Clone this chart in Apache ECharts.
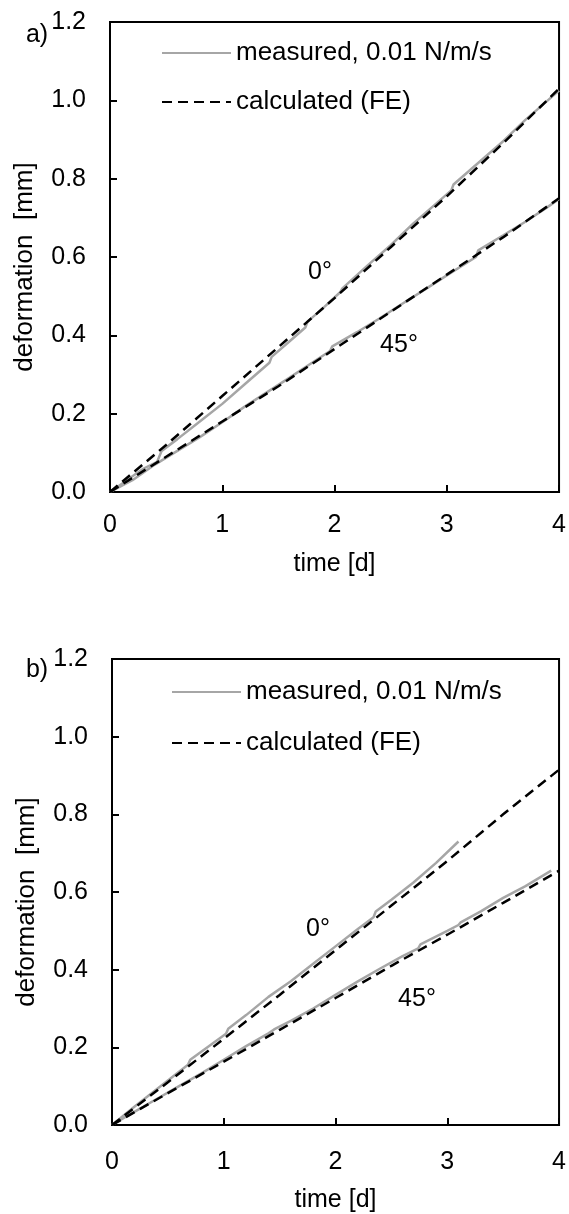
<!DOCTYPE html>
<html>
<head>
<meta charset="utf-8">
<script src="https://cdn.jsdelivr.net/npm/echarts@6/dist/echarts.min.js"></script>
<style>
html,body{margin:0;padding:0;background:#fff;}
#chart{width:569px;height:1214px;}
</style>
</head>
<body>
<div id="chart"></div>
<script>
// ---- data ----
var xTicks = [0, 1, 2, 3, 4];
var yTicks = [0.0, 0.2, 0.4, 0.6, 0.8, 1.0, 1.2];
var legendNames = ['measured, 0.01 N/m/s', 'calculated (FE)'];
var angleLabels = ['0°', '45°'];
var panelLabels = ['a)', 'b)'];

// panel a) calculated (FE)
var calcT = [0, 0.5, 1.0, 1.5, 2.0, 2.5, 3.0, 3.5, 4.0];
var aCalc0  = [0, 0.12, 0.245, 0.37, 0.495, 0.625, 0.755, 0.89, 1.03];
var aCalc45 = [0, 0.09, 0.18, 0.27, 0.365, 0.46, 0.555, 0.65, 0.75];
// panel a) measured
var aMeas0T = [0, 0.1, 0.2, 0.3, 0.42, 0.46, 0.6, 0.8, 1.0, 1.2, 1.42, 1.44, 1.6, 1.74, 1.76, 1.9, 2.05, 2.07, 2.3, 2.5, 2.7, 2.9, 3.04, 3.06, 3.3, 3.5, 3.7, 3.9, 4.0];
var aMeas0V = [0, 0.02, 0.04, 0.06, 0.077, 0.105, 0.135, 0.18, 0.225, 0.275, 0.33, 0.345, 0.385, 0.42, 0.435, 0.47, 0.51, 0.52, 0.58, 0.63, 0.685, 0.735, 0.77, 0.785, 0.845, 0.895, 0.95, 1.0, 1.025];
var aMeas45T = [0, 0.2, 0.4, 0.6, 0.8, 1.0, 1.2, 1.4, 1.6, 1.8, 1.96, 1.98, 2.2, 2.4, 2.6, 2.8, 3.0, 3.26, 3.28, 3.5, 3.7, 3.9, 4.0];
var aMeas45V = [0, 0.03, 0.07, 0.105, 0.14, 0.178, 0.218, 0.255, 0.292, 0.33, 0.36, 0.372, 0.408, 0.443, 0.48, 0.516, 0.553, 0.6, 0.617, 0.655, 0.69, 0.728, 0.748];

// panel b) calculated (FE)
var bCalc0  = [0, 0.11, 0.222, 0.335, 0.45, 0.565, 0.68, 0.8, 0.915];
var bCalc45 = [0, 0.082, 0.163, 0.245, 0.327, 0.41, 0.49, 0.572, 0.655];
// panel b) measured
var bMeas0T = [0, 0.2, 0.4, 0.68, 0.7, 0.9, 1.02, 1.04, 1.2, 1.4, 1.6, 1.8, 2.0, 2.2, 2.34, 2.36, 2.5, 2.7, 2.9, 3.1];
var bMeas0V = [0, 0.047, 0.092, 0.155, 0.168, 0.21, 0.235, 0.248, 0.283, 0.33, 0.37, 0.415, 0.46, 0.505, 0.535, 0.55, 0.58, 0.625, 0.675, 0.73];
var bMeas45T = [0, 0.2, 0.4, 0.6, 0.8, 1.0, 1.2, 1.4, 1.45, 1.6, 1.8, 2.0, 2.2, 2.4, 2.6, 2.74, 2.76, 3.0, 3.1, 3.12, 3.3, 3.5, 3.7, 3.93];
var bMeas45V = [0, 0.034, 0.067, 0.1, 0.133, 0.168, 0.203, 0.236, 0.246, 0.268, 0.3, 0.335, 0.37, 0.403, 0.435, 0.455, 0.465, 0.5, 0.515, 0.522, 0.55, 0.585, 0.615, 0.655];

function zip(xs, ys) { return xs.map(function (x, i) { return [x, ys[i]]; }); }

var FONT = 'Liberation Sans, Arial, sans-serif';
var FS = 25;
var GRAY = '#a6a6a6';

function xAx(gi, margin, gap) {
  return {
    gridIndex: gi, type: 'value', min: xTicks[0], max: xTicks[xTicks.length - 1], interval: 1,
    axisLine: { show: true, onZero: false, lineStyle: { color: '#000', width: 2 } },
    axisTick: { show: true, inside: true, length: 7, lineStyle: { color: '#000', width: 2 } },
    splitLine: { show: false },
    axisLabel: { fontSize: FS, fontFamily: FONT, color: '#000', margin: margin },
    name: 'time [d]', nameLocation: 'middle', nameGap: gap,
    nameTextStyle: { fontSize: FS, fontFamily: FONT, color: '#000' }
  };
}
function yAx(gi) {
  return {
    gridIndex: gi, type: 'value', min: yTicks[0], max: yTicks[yTicks.length - 1], interval: 0.2,
    axisLine: { show: true, onZero: false, lineStyle: { color: '#000', width: 2 } },
    axisTick: { show: true, inside: true, length: 7, lineStyle: { color: '#000', width: 2 } },
    splitLine: { show: false },
    axisLabel: { fontSize: FS, fontFamily: FONT, color: '#000', margin: 24,
      formatter: function (v) { return v.toFixed(1); } },
    name: 'deformation  [mm]', nameLocation: 'middle', nameGap: 72, nameRotate: 90,
    nameTextStyle: { fontSize: 26, fontFamily: FONT, color: '#000', padding: [0, 20, 0, 0] }
  };
}
function measSeries(gi, data) {
  return { name: legendNames[0], type: 'line', xAxisIndex: gi, yAxisIndex: gi, data: data,
    symbol: 'none', lineStyle: { color: GRAY, width: 2.5 }, itemStyle: { color: GRAY },
    z: 2, animation: false };
}
function calcSeries(gi, data) {
  return { name: legendNames[1], type: 'line', xAxisIndex: gi, yAxisIndex: gi, data: data,
    symbol: 'none', lineStyle: { color: '#000', width: 2.5, type: [10, 6] }, itemStyle: { color: '#000' },
    z: 3, animation: false };
}
function legendAt(left, top, gap) {
  return { orient: 'vertical', left: left, top: top, itemWidth: 69, itemHeight: 14, itemGap: gap,
    selectedMode: false, data: legendNames,
    itemStyle: { opacity: 0 },
    lineStyle: { opacity: 1 },
    textStyle: { fontSize: 26, fontFamily: FONT, color: '#000' } };
}
function txt(s, x, y) {
  return { type: 'text', x: x, y: y, style: { text: s, fontSize: FS, fontFamily: FONT, fill: '#000',
    align: 'center', verticalAlign: 'middle' } };
}

var option = {
  backgroundColor: '#fff',
  animation: false,
  grid: [
    { left: 110, top: 22, width: 453, height: 470, show: true, borderColor: '#000', borderWidth: 2 },
    { left: 112, top: 659, width: 450, height: 468, show: true, borderColor: '#000', borderWidth: 2 }
  ],
  xAxis: [xAx(0, 21, 60), xAx(1, 25, 63)],
  yAxis: [yAx(0), yAx(1)],
  legend: [legendAt(156, 35, 23), legendAt(166, 674, 25)],
  series: [
    measSeries(0, zip(aMeas0T, aMeas0V)),
    measSeries(0, zip(aMeas45T, aMeas45V)),
    calcSeries(0, zip(calcT, aCalc0)),
    calcSeries(0, zip(calcT, aCalc45)),
    measSeries(1, zip(bMeas0T, bMeas0V)),
    measSeries(1, zip(bMeas45T, bMeas45V)),
    calcSeries(1, zip(calcT, bCalc0)),
    calcSeries(1, zip(calcT, bCalc45))
  ],
  graphic: [
    txt(panelLabels[0], 37, 35),
    txt(panelLabels[1], 37, 670),
    txt(angleLabels[0], 320, 272),
    txt(angleLabels[1], 399, 345),
    txt(angleLabels[0], 318, 929),
    txt(angleLabels[1], 417, 999)
  ]
};

var chart = echarts.init(document.getElementById('chart'), null, { renderer: 'canvas' });
chart.setOption(option);
</script>
</body>
</html>
